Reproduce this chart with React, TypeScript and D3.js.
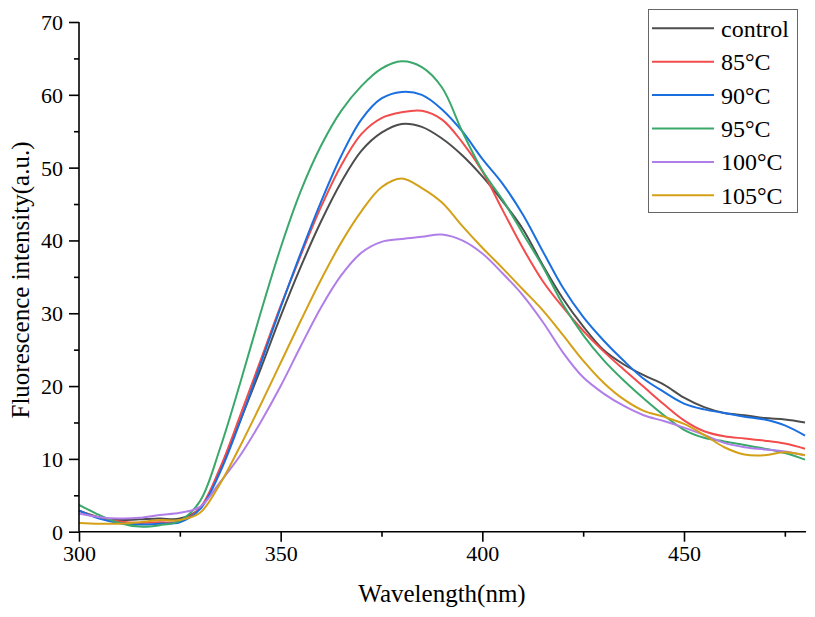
import { useEffect, useRef } from 'react';
import * as d3 from 'd3';

// wavelength grid (nm), 5 nm steps
const wavelengths = d3.range(300, 481, 5);

const control = [2.9, 2.0, 1.6, 1.7, 1.8, 1.8, 3.2, 8.5, 15.3, 22.3, 29.6, 36.4, 42.6, 48.0, 52.3, 54.8, 56.0, 55.6, 54.0, 51.7, 48.8, 45.4, 41.6, 36.6, 32.0, 28.2, 25.0, 23.0, 21.5, 20.2, 18.4, 17.1, 16.3, 16.0, 15.6, 15.4, 15.0];
const c85 = [2.9, 1.9, 1.4, 1.2, 1.3, 1.4, 3.3, 8.8, 16.0, 23.5, 31.0, 38.0, 44.6, 50.3, 54.6, 56.8, 57.6, 57.8, 56.6, 53.5, 49.5, 44.2, 39.0, 34.4, 30.8, 27.6, 24.8, 22.3, 19.9, 17.5, 15.3, 13.8, 13.1, 12.8, 12.5, 12.1, 11.4];
const c90 = [2.9, 1.8, 1.2, 1.0, 1.1, 1.3, 3.1, 8.2, 15.2, 23.0, 30.8, 38.3, 45.3, 51.6, 56.6, 59.5, 60.4, 60.0, 58.0, 55.0, 51.2, 47.8, 43.6, 38.5, 33.5, 29.5, 26.3, 23.5, 21.0, 19.2, 17.6, 16.8, 16.3, 15.8, 15.4, 14.6, 13.2];
const c95 = [3.7, 2.3, 1.2, 0.7, 0.9, 1.5, 4.2, 11.5, 20.5, 30.0, 39.0, 46.8, 53.0, 57.8, 61.2, 63.6, 64.6, 63.8, 61.0, 55.0, 49.6, 45.6, 41.0, 36.4, 31.2, 27.0, 23.6, 20.8, 18.3, 16.0, 14.0, 12.9, 12.4, 11.9, 11.4, 10.8, 9.9];
const c100 = [2.5, 2.0, 1.8, 1.9, 2.3, 2.6, 3.4, 6.8, 10.5, 15.0, 20.0, 25.5, 30.8, 35.2, 38.3, 39.8, 40.2, 40.5, 40.8, 40.0, 38.2, 35.5, 32.5, 28.8, 24.6, 21.2, 19.0, 17.3, 16.0, 15.2, 14.3, 13.3, 12.2, 11.6, 11.3, 11.0, 10.5];
const c105 = [1.2, 1.1, 1.1, 1.3, 1.6, 1.6, 2.6, 6.6, 11.8, 17.4, 23.2, 29.0, 34.6, 39.7, 44.0, 47.3, 48.5, 47.2, 45.2, 42.0, 39.0, 36.2, 33.3, 30.4, 27.0, 23.5, 20.5, 18.2, 16.6, 15.8, 14.8, 13.3, 11.6, 10.6, 10.5, 10.9, 10.5];

const seriesNames = ['control', '85°C', '90°C', '95°C', '100°C', '105°C'];
const seriesValues = [control, c85, c90, c95, c100, c105];
const seriesColors = ['#4d4d4d', '#f24c4c', '#1a6fe0', '#3aa86b', '#b07ee8', '#d4a017'];

const xTicks = [300, 350, 400, 450];
const yTicks = [0, 10, 20, 30, 40, 50, 60, 70];

const W = 815;
const H = 617;
const FONT = '"Liberation Serif", "Times New Roman", serif';

export default function App() {
  const svgRef = useRef<SVGSVGElement>(null);

  useEffect(() => {
    if (!svgRef.current) return;
    const svg = d3.select(svgRef.current);
    svg.selectAll('*').remove();

    const x = d3.scaleLinear().domain([300, 480]).range([79, 805]);
    const y = d3.scaleLinear().domain([0, 70]).range([531.7, 22]);

    // curves
    const line = d3.line<number>()
      .x((_, i) => x(wavelengths[i]))
      .y(d => y(d))
      .curve(d3.curveCatmullRom.alpha(0.5));

    seriesValues.forEach((vals, k) => {
      svg.append('path')
        .attr('d', line(vals) ?? '')
        .attr('fill', 'none')
        .attr('stroke', seriesColors[k])
        .attr('stroke-width', 2);
    });

    // axes
    const xAxis = svg.append('g').attr('transform', `translate(0,${y(0)})`);
    xAxis.call(d3.axisBottom(x).tickValues(d3.range(300, 481, 25)).tickSize(5).tickFormat(() => ''));
    xAxis.selectAll('.tick').filter((d: any) => xTicks.includes(d)).select('line').attr('y2', 10);
    xAxis.select('.domain').attr('d', `M${x(300)},0H${x(480) + 1}`);
    xAxis.selectAll('.tick text').remove();
    xAxis.selectAll('.tick')
      .filter((d: any) => xTicks.includes(d))
      .append('text')
      .attr('y', 29)
      .attr('fill', '#000')
      .style('font-family', FONT)
      .style('font-size', '22px')
      .text((d: any) => String(d));

    const yAxis = svg.append('g').attr('transform', `translate(${x(300)},0)`);
    yAxis.call(d3.axisLeft(y).tickValues(d3.range(0, 71, 5)).tickSize(5).tickFormat(() => ''));
    yAxis.selectAll('.tick').filter((d: any) => yTicks.includes(d)).select('line').attr('x2', -10);
    yAxis.select('.domain').attr('d', `M0,${y(0)}V${y(70)}`);
    yAxis.selectAll('.tick text').remove();
    yAxis.selectAll('.tick')
      .filter((d: any) => yTicks.includes(d))
      .append('text')
      .attr('x', -16)
      .attr('dy', '0.34em')
      .attr('text-anchor', 'end')
      .attr('fill', '#000')
      .style('font-family', FONT)
      .style('font-size', '22px')
      .text((d: any) => String(d));

    svg.selectAll('.domain, .tick line').attr('stroke', '#000').attr('stroke-width', 1.6);

    // axis titles
    svg.append('text')
      .attr('x', 442)
      .attr('y', 602)
      .attr('text-anchor', 'middle')
      .style('font-family', FONT)
      .style('font-size', '25px')
      .text('Wavelength(nm)');

    svg.append('text')
      .attr('transform', 'translate(29,280) rotate(-90)')
      .attr('text-anchor', 'middle')
      .style('font-family', FONT)
      .style('font-size', '25px')
      .text('Fluorescence intensity(a.u.)');

    // legend
    const lg = svg.append('g');
    lg.append('rect')
      .attr('x', 648.5).attr('y', 9.5)
      .attr('width', 149).attr('height', 203)
      .attr('fill', '#fff')
      .attr('stroke', '#666')
      .attr('stroke-width', 1);
    seriesNames.forEach((name, k) => {
      const cy = 28.3 + k * 33.4;
      lg.append('line')
        .attr('x1', 652).attr('x2', 714)
        .attr('y1', cy).attr('y2', cy)
        .attr('stroke', seriesColors[k])
        .attr('stroke-width', 2);
      lg.append('text')
        .attr('x', 721)
        .attr('y', cy)
        .attr('dy', '0.35em')
        .style('font-family', FONT)
        .style('font-size', '24px')
        .text(name);
    });
  }, []);

  return (
    <svg
      ref={svgRef}
      width={W}
      height={H}
      style={{ position: 'absolute', left: 0, top: 0, background: '#fff' }}
    />
  );
}
